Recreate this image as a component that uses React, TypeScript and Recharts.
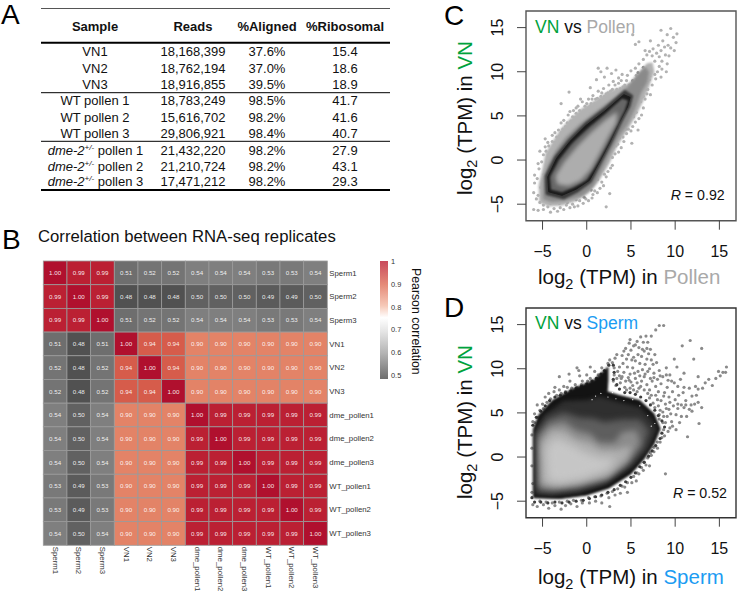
import React from "react"
import { ScatterChart, Scatter, XAxis, YAxis, ReferenceArea } from "recharts"

type Pt = [number, number]

// ---- panel A table
const tableHead = ["Sample", "Reads", "%Aligned", "%Ribosomal"]
const sampleNames = ["VN1", "VN2", "VN3", "WT pollen 1", "WT pollen 2", "WT pollen 3", "pollen 1", "pollen 2", "pollen 3"]
const readCounts = ["18,168,399", "18,762,194", "18,916,855", "18,783,249", "15,616,702", "29,806,921", "21,432,220", "21,210,724", "17,471,212"]
const alignedPct = ["37.6%", "37.0%", "39.5%", "98.5%", "98.2%", "98.4%", "98.2%", "98.2%", "98.2%"]
const ribosomalPct = ["15.4", "18.6", "18.9", "41.7", "41.6", "40.7", "27.9", "43.1", "29.3"]

// ---- panel B heatmap
const heatLabels = ["Sperm1", "Sperm2", "Sperm3", "VN1", "VN2", "VN3", "dme_pollen1", "dme_pollen2", "dme_pollen3", "WT_pollen1", "WT_pollen2", "WT_pollen3"]
const correlations = [
  [1.0, 0.99, 0.99, 0.51, 0.52, 0.52, 0.54, 0.54, 0.54, 0.53, 0.53, 0.54],
  [0.99, 1.0, 0.99, 0.48, 0.48, 0.48, 0.5, 0.5, 0.5, 0.49, 0.49, 0.5],
  [0.99, 0.99, 1.0, 0.51, 0.52, 0.52, 0.54, 0.54, 0.54, 0.53, 0.53, 0.54],
  [0.51, 0.48, 0.51, 1.0, 0.94, 0.94, 0.9, 0.9, 0.9, 0.9, 0.9, 0.9],
  [0.52, 0.48, 0.52, 0.94, 1.0, 0.94, 0.9, 0.9, 0.9, 0.9, 0.9, 0.9],
  [0.52, 0.48, 0.52, 0.94, 0.94, 1.0, 0.9, 0.9, 0.9, 0.9, 0.9, 0.9],
  [0.54, 0.5, 0.54, 0.9, 0.9, 0.9, 1.0, 0.99, 0.99, 0.99, 0.99, 0.99],
  [0.54, 0.5, 0.54, 0.9, 0.9, 0.9, 0.99, 1.0, 0.99, 0.99, 0.99, 0.99],
  [0.54, 0.5, 0.54, 0.9, 0.9, 0.9, 0.99, 0.99, 1.0, 0.99, 0.99, 0.99],
  [0.53, 0.49, 0.53, 0.9, 0.9, 0.9, 0.99, 0.99, 0.99, 1.0, 0.99, 0.99],
  [0.53, 0.49, 0.53, 0.9, 0.9, 0.9, 0.99, 0.99, 0.99, 0.99, 1.0, 0.99],
  [0.54, 0.5, 0.54, 0.9, 0.9, 0.9, 0.99, 0.99, 0.99, 0.99, 0.99, 1.0],
]
const legendTicks = ["1", "0.9", "0.8", "0.7", "0.6", "0.5"]

// ---- panel C density outlines, outermost first
const cOutlines: Pt[][] = [
  [[-5.3, -4.8], [-5.4, -2.9], [-5, -1.2], [-4.6, 0.8], [-3.8, 2.1], [-2.9, 3.5], [-2, 4.5], [-0.7, 5.7], [0.6, 6.5], [2.4, 7.7], [3.8, 8.2], [5.1, 8.8], [6, 9.9], [6.8, 10.9], [7.4, 11], [7.6, 10], [7.1, 8.6], [6.5, 7], [5.5, 5], [4.5, 3.3], [3.4, 1.6], [2.5, -0.4], [1.3, -2.4], [0.2, -3.7], [-1.2, -4.6], [-2.8, -5.1], [-4.3, -5.2]],
  [[-4.9, -4.4], [-4.9, -2.4], [-4.4, -0.7], [-3.5, 1], [-2.3, 2.6], [-0.8, 4], [1, 5.4], [3, 6.9], [4.6, 8.2], [5.7, 9.6], [6.6, 10.5], [7, 10], [6.8, 8.8], [6.1, 7.6], [5.5, 6], [4.6, 4.1], [3.5, 2.5], [2.4, 0.4], [1.5, -1.5], [0.7, -3], [-0.5, -4], [-2.6, -4.6], [-4, -4.7]],
  [[-4.6, -3.9], [-4.7, -1.8], [-3.6, 0.4], [-2, 2.4], [-0.2, 4.2], [2, 5.9], [4.3, 7.9], [5.2, 7.3], [4.9, 6.1], [3.9, 4.2], [2.9, 2.1], [1.8, 0], [0.5, -2.5], [-1, -3.6], [-2.6, -4.4]],
  [[-4.3, -3.6], [-4.4, -1.9], [-3.4, 0.2], [-1.9, 2.1], [-0.1, 3.9], [2, 5.5], [4.2, 7.4], [4.9, 7.1], [4.6, 6], [3.6, 4.1], [2.6, 2], [1.5, -0.1], [0.3, -2.3], [-1.2, -3.3], [-2.8, -4]],
  [[-4, -3.3], [-4.1, -1.9], [-3.1, 0], [-1.6, 1.9], [0.2, 3.6], [2, 5.1], [4, 6.9], [4.6, 6.7], [4.2, 5.5], [3.3, 3.8], [2.3, 1.8], [1.2, -0.2], [0, -2.2], [-1.4, -3], [-2.8, -3.6]],
  [[-3.3, -2.7], [-3.5, -1.8], [-2.5, -0.2], [-1, 1.6], [0.5, 3.1], [2.2, 4.6], [3.4, 5.4], [3.3, 4.2], [2.4, 2.6], [1.4, 0.7], [0.4, -1.1], [-0.7, -2.3], [-2.1, -2.9]],
]

// stray and edge genes of panel C
const cFringe: Pt[] = [
  [-2, 7.7], [-2.9, 6.4], [-4.7, 2.4], [-5.3, 1], [-5.5, -0.4], [-5.9, -1.7], [-5.9, -2.6], [-6, -3.7], [-5.7, -4.4], [-6, -5.6], [-5.5, -5.7], [-4.9, -5.6], [-4.1, -5.9], [-3.3, -5.8], [-2.6, -5.6], [-1.9, -5.4], [-1, -5.2],
  [-4.4, 2], [-3.9, 2.8], [-3.4, 2.6], [-3.2, 3.4], [-2.7, 3.5], [-2.6, 4.5], [-2.2, 4.2], [-2.1, 5.1], [-1.6, 4.9], [-1.5, 5.6], [-1.2, 5.3], [-1, 6.1], [-0.8, 5.6], [-0.5, 6.6], [-0.2, 6.1], [0.2, 6.9], [0.5, 6.4], [0.7, 7.3], [1, 6.9], [1.3, 7.8], [1.6, 7.2], [1.9, 8.1], [2.2, 7.5], [2.5, 8.5], [2.9, 8], [3.2, 8.5], [3.6, 8.7], [4.1, 8.3], [4.5, 9],
  [1.3, 10.4], [1.6, 10], [2.3, 10.4], [2.8, 9.8], [2, 9.4], [1.1, 9.1], [0.4, 8.2], [3.3, 10.2], [3.6, 9.3], [4, 9.7], [4.6, 9.6], [5, 10.1], [5.5, 13.1], [5.2, 14.2], [5.9, 13.4], [6.6, 12.4], [7.2, 13.5], [7.5, 12.6], [8.1, 13], [8.4, 14.7], [8.6, 13.5], [9.1, 14.2], [9.5, 14.9], [9.8, 13.9], [10.2, 14.3], [10.1, 13.3], [9.5, 12.7], [9.9, 12.4], [9.3, 11.8], [9.1, 10.9], [9, 10], [8.4, 9.4], [8.2, 10.6], [7.8, 9.2],
  [7.2, 7.4], [6.9, 8], [6.6, 6.9], [6.2, 5.1], [6.1, 6.6], [5.8, 3.4], [5.6, 5.4], [5.1, 1.9], [5, 3.3], [4.5, 3], [4.1, 2.6], [3.5, 1.8], [3.2, 0.7], [2.9, -0.6], [2.2, -1.9], [1.7, -2.5], [1.2, -3.7], [0.7, -3.9], [0.2, -4.6], [-0.4, -4.9], [2.6, -3.8], [2.2, -5.3],
  [-5.4, -1], [-5.1, -0.2], [-5.6, -2.1], [-5.2, -3.1], [-5.5, -4], [-5.3, -4.8], [-4.9, -5.1], [-4.4, -5.3], [-3.7, -5.5], [-3, -5.4], [-2.3, -5.1], [-1.6, -5], [-4.9, 0.6], [-4.6, 1], [-4.3, 1.6], [-4.7, 1.5], [-3.9, 2.1], [-3.6, 2], [-3.6, 3.1], [-3.1, 2.7], [-2.9, 3.1], [-2.4, 3.8], [-2.9, 4.2], [-2, 3.9], [-1.8, 4.4], [-1.9, 5.5], [-1.3, 4.8], [-0.9, 5], [-1.2, 5.9], [-0.6, 5.3], [-0.3, 5.6], [-0.7, 6.9], [0, 6.4], [0.2, 5.9], [0.4, 6.1], [0.6, 6.9], [0.9, 6.4], [1.2, 7], [1.5, 6.8], [1.7, 7.6], [2, 7.2], [2.4, 7.6], [2.7, 7.8], [3, 8.9], [3.4, 8], [3.8, 8.1], [3.9, 9], [4.3, 8.5], [4.8, 8.5], [5.2, 8.9], [5.6, 9.6], [5.5, 10.4], [5.9, 10.9], [6.3, 9.8], [6.4, 11.4], [6.8, 11.9], [7.1, 12.3], [7.4, 11.8], [7.7, 11.2], [7.9, 12.1], [8.2, 11.7], [8.4, 12.4], [8.5, 11.2], [8.8, 12.8], [8.9, 11.9], [9.2, 13], [8, 10], [8.5, 10.3], [7.7, 9.7], [7.4, 8.5], [7.1, 9.1], [6.8, 7.5], [6.4, 7.2], [6.4, 5.9], [5.9, 4.7], [5.5, 4.3], [5.2, 3.8], [5.3, 4.9], [4.7, 3.5], [4.2, 2.1], [3.9, 1.4], [3.6, 0.9], [3.3, 1.6], [2.9, 0.3], [2.7, -0.9], [2.4, -1.3], [2, -1.6], [1.9, -2.9], [1.5, -3.2], [0.9, -3.5], [0.6, -4.3], [-0.1, -4.4], [-0.8, -4.6], [-1.4, -5.3],
]
const cEdge: Pt[] = [
  [-5, -3.5], [-4.8, -1.6], [-4.3, -0.2], [-3.8, 0.7], [-3, 1.9], [-2.4, 2.5], [-1.6, 3.4], [-1.1, 3.9], [-0.3, 4.7], [0.6, 5.2], [1.4, 5.9], [2.1, 6.4], [2.8, 7], [3.6, 7.5], [4.4, 8.2], [5.2, 9], [5.8, 9.9], [6.4, 10.5],
  [7.1, 9.5], [6.6, 8], [6, 6.9], [5.3, 5.2], [4.4, 3.5], [3.7, 2.5], [3, 1.4], [2.3, 0], [1.8, -1], [1.2, -2.2], [0.5, -3.4], [-0.3, -4.2], [-1.2, -4.5], [-2.2, -4.8], [-3.1, -4.9], [-4.1, -4.9],
]

// ---- panel D density outlines, outermost first
const dOutlines: Pt[][] = [
  [[-6, -4.6], [-6, 3.2], [-5.4, 4.8], [-3.9, 6.4], [-1.6, 7.7], [0.8, 8.7], [2.4, 10.2], [2.4, 8.6], [2.3, 7.4], [3.6, 7], [6, 6.4], [7.6, 4.9], [8.3, 3.2], [7.6, 1.5], [6.4, -0.3], [5, -1.9], [2.5, -3.5], [0, -4.3], [-3, -4.7]],
  [[-5.8, -4.2], [-5.8, 3], [-4.7, 4.8], [-2.6, 6.3], [0, 6.4], [1.4, 6.8], [3.5, 6.2], [6, 5.6], [7.4, 4.2], [7.9, 3.2], [7, 1], [5.1, -1.1], [2.2, -3], [-1, -4], [-4, -4.3]],
  [[-5.5, -3.8], [-5.6, 2.6], [-4.4, 4.3], [-2.6, 5], [-0.8, 4.4], [0.8, 4.3], [2, 3.9], [4, 4.2], [6, 4.2], [7, 3], [6.3, 1], [4.6, -0.9], [2, -2.7], [-1, -3.6], [-4, -3.9]],
  [[-5.3, -3.4], [-5.4, 2.2], [-4.2, 3.6], [-2.6, 4], [-1.2, 3], [0.4, 2.6], [1.4, 1.6], [3.2, 1.6], [4, 2.8], [5.6, 3], [6, 1.6], [4.6, -0.6], [2.3, -2.4], [-1, -3.2], [-3.8, -3.6]],
  [[-5, -3], [-5.1, 1.6], [-4, 3], [-2.6, 3], [-1.2, 2], [0.4, 1.6], [1.6, 0.8], [3.4, 0.8], [5, 1.2], [4.4, -0.3], [2.4, -2], [-1, -2.9], [-3.6, -3.2]],
  [[-4.4, -2.6], [-4.6, 1], [-3.6, 2.2], [-2.2, 1.6], [-0.4, 0.6], [1.4, -0.1], [3.2, -0.1], [2.4, -1.4], [-0.4, -2.4], [-3, -2.9]],
]

// stray and edge genes of panel D
const dFringe: Pt[] = [
  [-6.1, -5.4], [-5.6, -5.6], [-4.9, -5.4], [-4.3, -5.8], [-3.6, -5.5], [-2.9, -5.9], [-2.4, -5.5], [-1.8, -5.3], [-1.1, -5.6], [-0.5, -5.2], [0.3, -5.2], [1, -5], [1.7, -5.2], [2.5, -4.6], [2.6, -5.6], [3.2, -4.3], [3.8, -4.1], [4.3, -3.4], [4.6, -4], [5.1, -2.9], [5.6, -2.7], [5.9, -1.9], [6.4, -1.5], [6.7, -0.9], [7.1, -1], [7.3, 0.2], [7.6, 0.6], [8, 1], [8.3, 1.7], [8.9, -1.9], [8.8, 2.4],
  [-6.1, 4], [-5.9, 4.9], [-5.6, 5.9], [-5, 6], [-4.7, 6.8], [-4.3, 7.2], [-3.7, 7.4], [-3.6, 7.9], [-3.1, 7.6], [-2.6, 8], [-2.2, 7.9], [-1.9, 8.6], [-1.3, 8.2], [-0.8, 9.2], [-0.5, 8.6], [0, 9.3], [0.4, 8.9], [0.9, 9.7], [1.3, 9.3], [1.7, 10.1], [2.4, 10.6],
  [-2, 9.4], [-3.1, 9.1], [-1.1, 10.1], [-0.9, 9.8], [0.4, 10.2], [2.6, 11], [2.9, 10.7], [3.2, 11.2], [3.7, 10.2], [4, 11.5], [4.1, 10.6], [4.4, 12.3], [4.7, 11.6], [4.8, 12.9], [5, 12.1], [5.3, 11.3], [5.5, 12.7], [5.7, 13.1], [5.9, 12.4], [6.1, 13.6], [6.4, 13], [6.7, 13.7], [6.9, 13], [6.5, 12], [7.3, 13.7], [7.8, 14.4], [8.2, 14.9], [8.7, 14.9], [7.2, 12.2],
  [3.1, 9.3], [3.5, 9.7], [3.9, 8.9], [4.2, 9.6], [4.6, 10.2], [4.9, 9.4], [5.2, 10.1], [5.5, 10.9], [5.8, 9.7], [6, 10.6], [6.2, 11.4], [6.6, 10.5], [6.8, 11.1], [7.1, 10], [7.3, 11], [7.6, 9.5], [7.9, 10.7], [8.2, 9.8], [8.6, 9.1], [9, 10.1], [9.4, 9.3], [9.6, 8.6], [9.9, 11.1], [10.2, 10.2], [10.6, 8.8], [11, 9.5], [10.8, 12.6], [11.7, 13.2], [12.1, 11.1], [13, 12.3], [12.6, 9.1],
  [3.3, 8.1], [3.8, 8.4], [4.3, 7.9], [4.8, 8.7], [5.2, 8.1], [5.5, 8.9], [5.9, 7.8], [6.2, 8.6], [6.5, 9.1], [6.8, 8.2], [7.1, 7.6], [7.4, 8.6], [7.8, 8], [8.1, 7.4], [8.4, 8.3], [8.8, 7.3], [9.1, 7.9], [9.3, 6.8], [9.7, 7.4], [10, 6.5], [10.4, 7], [10.9, 7.3], [11.2, 6.4], [11.6, 7.8], [11.9, 6.9], [12.3, 8], [12.6, 7.7], [13.1, 7.8], [13.4, 8.4], [13.8, 8.8], [14.2, 8.1], [14.6, 8.9], [15.1, 9.2], [15.4, 9.6], [15.8, 10.2], [15.7, 9.6], [14.9, 9.7],
  [7.1, 6.7], [7.5, 6.1], [7.8, 7], [8.1, 5.8], [8.4, 6.4], [8.6, 5.1], [8.9, 6], [9.1, 4.6], [9.3, 5.4], [9.6, 4], [9.8, 5.8], [10.1, 4.8], [10.3, 5.5], [10.5, 3.9], [10.7, 4.6], [11, 5.6], [11.3, 4.6], [11.6, 5.4], [11.9, 5.2], [12.2, 6], [12.6, 6.2], [13, 5.6], [10.1, 3.1], [9.4, 3.3], [9.2, 2.9], [8.9, 3.9], [11.4, 2.3], [12.7, 3.8],
  [3, 8.6], [3.4, 8.9], [3.7, 9.2], [4, 9.1], [4.4, 8.6], [4.7, 9], [5, 8.5], [5.4, 9.5], [5.7, 8.4], [6, 9.2], [6.3, 9.9], [6.6, 9.4], [6.9, 9.7], [7.2, 8.9], [7.6, 9], [8, 8.8], [8.3, 9.2], [5.1, 11], [4.5, 11.1], [5.8, 11.6], [6.3, 12.2], [6.8, 12.3], [7, 11.7], [7.5, 10.5], [7.7, 11.6], [4.2, 12], [4.9, 13.3], [5.3, 12.6], [3.4, 11.6], [3.1, 10.1], [6.1, 8], [6.5, 7.6], [6.9, 7.2], [7.3, 7], [5.7, 7.4], [5.3, 7.6], [4.9, 7.8], [4.5, 7.6], [8.3, 5.3], [8.7, 4.6], [9, 5.5], [9.5, 4.9], [9.7, 3.5], [10.3, 6], [9.4, 6.2], [8.7, 6.9], [8, 6.5], [7.7, 5.6], [8.2, 4.8], [10.7, 5.9], [11.2, 5.9], [11, 7.9], [11.8, 5.9], [12.4, 7], [9.9, 8.4], [10.3, 8], [9.2, 8.7], [9, 9.3],
  [-6.2, -4], [-6.1, -3], [-6.2, -1], [-6.2, 1], [-6.2, 2.5], [-5.9, 3.9], [-5.5, 4.5], [-5.3, 5.3], [-4.9, 5.5], [-4.5, 6.2], [-4.1, 6.6], [-3.4, 7], [-2.9, 7.2], [-2.4, 7.4], [-1.7, 7.8], [-1.1, 7.9], [-0.6, 8.2], [0.1, 8.6], [0.6, 8.6], [1.1, 8.9], [-5.3, -5], [-4.6, -5.1], [-3.9, -5.2], [-3.1, -5.1], [-2.2, -5], [-1.5, -4.9], [-0.6, -4.9], [0.2, -4.6], [0.9, -4.5], [1.6, -4.4], [2.3, -4.1], [2.9, -3.9], [3.5, -3.6], [4, -3.3], [4.6, -2.9], [5.3, -2.2], [5.7, -1.8], [6.2, -1.2], [6.5, -0.6], [6.9, -0.1], [7.2, 0.5], [7.6, 1.1], [8, 1.7], [8.5, 2.2], [8.7, 3.1], [8.6, 3.9], [8.2, 4.3],
]
const dEdge: Pt[] = [
  [-6.1, 3.6], [-5.7, 4.5], [-5.2, 5.2], [-4.7, 5.8], [-4.2, 6.4], [-3.6, 6.8], [-3, 7], [-2.4, 7.3], [-1.8, 7.5], [-1.2, 7.8], [-0.6, 8], [0, 8.3], [0.6, 8.6], [1.1, 8.9], [1.6, 9.4], [2, 9.8], [2.5, 10.4], [3, 10.4], [3.1, 9.6], [3, 8.8], [3.4, 8.2], [3.7, 7.7], [4.3, 7.3], [4.9, 7.3], [5.5, 7.1], [6.1, 6.8], [6.7, 6.4], [7.2, 5.9], [7.7, 5.3], [8.1, 4.7], [8.5, 4.1], [8.8, 3.4],
  [8.5, 2.7], [8.3, 2.1], [7.8, 1.3], [7.4, 0.7], [7, 0.1], [6.5, -0.6], [6, -1.1], [5.5, -1.8], [5, -2.3], [4.4, -2.8], [3.8, -3.2], [3.1, -3.7], [2.4, -4], [1.7, -4.3], [1, -4.5], [0.3, -4.7], [-0.4, -4.9], [-1.2, -5], [-2, -5.1], [-2.8, -5.2], [-3.6, -5.1], [-4.4, -5.2], [-5.2, -5.1], [-5.9, -5.1], [-6.2, -4.6],
]
const dSpecks: Pt[] = [[1, 6.9], [1.6, 7.2], [2.4, 6.8], [3.3, 6.6], [0.6, 6.5], [4.2, 6.4], [5.2, 6.5], [6, 5.8], [7.3, 3.5], [7.7, 3.8], [6.9, 4.7], [2.9, 7.3], [4, 8.6]]

const axisTicks = [-5, 0, 5, 10, 15]
const axisDomain: [number, number] = [-6.87, 16.88]

const FONT = "'Liberation Sans', Arial, sans-serif"
const CELL = 284 / 12

const heatColor = (value: string): string =>
  ({
    "1.00": "#b0102e", "0.99": "#bb2033", "0.94": "#d65c4b", "0.90": "#e38367",
    "0.54": "#7f7f7f", "0.53": "#797979", "0.52": "#747474", "0.51": "#6e6e6e",
    "0.50": "#616161", "0.49": "#5b5b5b", "0.48": "#515151",
  } as Record<string, string>)[value]

const cBandStyle = [
  { color: "#b2b2b2", blur: 0.9 },
  { color: "#8a8a8a", blur: 1.4 },
  { color: "#3a3a3a", blur: 0.9 },
  { color: "#1c1c1c", blur: 0.7 },
  { color: "#666666", blur: 1.2 },
  { color: "#adadad", blur: 2 },
]
const dBandStyle = [
  { color: "#131313", blur: 0.8 },
  { color: "#2f2f2f", blur: 2 },
  { color: "#5e5e5e", blur: 3 },
  { color: "#8c8c8c", blur: 3 },
  { color: "#adadad", blur: 3 },
  { color: "#c6c6c6", blur: 4 },
]

const toPoints = (list: Pt[]) => list.map(([x, y]) => ({ x, y }))

const noMark = () => <g />

const dotShape = (color: string, r: number) => (props: any) => <circle cx={props.cx} cy={props.cy} r={r} fill={color} />

const BottomTick = (props: any) => (
  <text x={props.x} y={props.y} dy={25} textAnchor="middle" fontSize={16} fontFamily={FONT} fill="#111">
    {String(props.payload.value).replace("-", "\u2212")}
  </text>
)

const LeftTick = (props: any) => {
  const x = props.x - 12
  return (
    <text transform={`rotate(-90 ${x} ${props.y})`} x={x} y={props.y} textAnchor="middle" fontSize={16} fontFamily={FONT} fill="#111">
      {String(props.payload.value).replace("-", "\u2212")}
    </text>
  )
}

type DensityProps = {
  left: number
  top: number
  boxColor: string
  outlines: Pt[][]
  bandStyle: { color: string; blur: number }[]
  fringe: Pt[]
  fringeColor: string
  edge: Pt[]
  edgeColor: string
  specks?: Pt[]
}

const DensityPanel = ({ left, top, boxColor, outlines, bandStyle, fringe, fringeColor, edge, edgeColor, specks }: DensityProps) => (
  <div style={{ position: "absolute", left, top }}>
    <ScatterChart width={318} height={280} margin={{ top: 11, right: 2, bottom: 0, left: 0 }}>
      <XAxis
        type="number"
        dataKey="x"
        domain={axisDomain}
        ticks={axisTicks}
        allowDataOverflow
        height={59.3}
        tickSize={9}
        tick={<BottomTick />}
        axisLine={false}
        tickLine={{ stroke: "#444", strokeWidth: 1 }}
      />
      <YAxis
        type="number"
        dataKey="y"
        domain={axisDomain}
        ticks={axisTicks}
        allowDataOverflow
        width={106}
        tickSize={9}
        tick={<LeftTick />}
        axisLine={false}
        tickLine={{ stroke: "#444", strokeWidth: 1 }}
      />
      <Scatter data={toPoints(fringe)} shape={dotShape(fringeColor, 1.6)} isAnimationActive={false} />
      <Scatter data={toPoints(edge)} shape={dotShape(edgeColor, 1.6)} isAnimationActive={false} />
      {outlines.map((outline, i) => (
        <Scatter
          key={i}
          data={toPoints(outline)}
          line={{ fill: bandStyle[i].color, stroke: bandStyle[i].color, strokeWidth: 1, style: { filter: `blur(${bandStyle[i].blur}px)` } } as any}
          lineJointType="linearClosed"
          shape={noMark}
          isAnimationActive={false}
        />
      ))}
      {specks && <Scatter data={toPoints(specks)} shape={dotShape("#ffffff", 0.6)} isAnimationActive={false} />}
      <ReferenceArea
        x1={axisDomain[0]}
        x2={axisDomain[1]}
        y1={axisDomain[0]}
        y2={axisDomain[1]}
        fill="none"
        stroke={boxColor}
        strokeWidth={1.4}
        ifOverflow="visible"
      />
    </ScatterChart>
  </div>
)

const heatCells = correlations.flatMap((row, r) =>
  row.map((value, c) => ({ x: c + 0.5, y: r + 0.5, value: value.toFixed(2) }))
)
const heatTicks = heatLabels.map((_, i) => i + 0.5)

const HeatCell = (props: any) => (
  <g>
    <rect
      x={props.cx - CELL / 2}
      y={props.cy - CELL / 2}
      width={CELL}
      height={CELL}
      fill={heatColor(props.payload.value)}
      stroke="#9a9a9a"
      strokeWidth={0.8}
    />
    <text x={props.cx} y={props.cy + 2.2} textAnchor="middle" fontSize={6.2} fontFamily={FONT} fill="#ffffff" fillOpacity={0.9}>
      {props.payload.value}
    </text>
  </g>
)

const HeatRowTick = (props: any) => (
  <text x={props.x - 6} y={props.y + 2.7} fontSize={7.8} fontFamily={FONT} fill="#333">
    {heatLabels[Math.floor(props.payload.value)]}
  </text>
)

const HeatColTick = (props: any) => {
  const x = props.x - 2.6
  const y = props.y - 6.5
  return (
    <text transform={`rotate(90 ${x} ${y})`} x={x} y={y} fontSize={7.8} fontFamily={FONT} fill="#333">
      {heatLabels[Math.floor(props.payload.value)]}
    </text>
  )
}

const Heatmap = () => (
  <div style={{ position: "absolute", left: 0, top: 250 }}>
    <ScatterChart width={400} height={344} margin={{ top: 11, right: 0, bottom: 0, left: 43.3 }}>
      <XAxis type="number" dataKey="x" domain={[0, 12]} ticks={heatTicks} interval={0} height={48.7} tick={<HeatColTick />} tickLine={false} axisLine={false} />
      <YAxis type="number" dataKey="y" domain={[0, 12]} reversed orientation="right" ticks={heatTicks} interval={0} width={72.7} tick={<HeatRowTick />} tickLine={false} axisLine={false} />
      <Scatter data={heatCells} shape={HeatCell} isAnimationActive={false} />
    </ScatterChart>
  </div>
)

const columnX = [95, 193, 267, 345]
const rowY = [51.7, 68, 84, 100, 117, 133, 150, 166, 181]

const SampleTable = () => (
  <g fontFamily={FONT} fontSize={13} fill="#111" textAnchor="middle">
    <line x1={41} x2={390} y1={8.5} y2={8.5} stroke="#555" strokeWidth={1} />
    <line x1={41} x2={390} y1={42.7} y2={42.7} stroke="#000" strokeWidth={2} />
    <line x1={41} x2={390} y1={92.7} y2={92.7} stroke="#000" strokeWidth={1} />
    <line x1={41} x2={390} y1={141.3} y2={141.3} stroke="#000" strokeWidth={1} />
    <line x1={41} x2={390} y1={190} y2={190} stroke="#000" strokeWidth={2} />
    {tableHead.map((h, i) => (
      <text key={h} x={columnX[i]} y={31} fontWeight="bold">{h}</text>
    ))}
    {sampleNames.map((name, i) => (
      <React.Fragment key={name}>
        {i < 6 ? (
          <text x={columnX[0]} y={rowY[i] + 4.6}>{name}</text>
        ) : (
          <text x={columnX[0] + 0.5} y={rowY[i] + 4.6}>
            <tspan fontStyle="italic">dme-2</tspan>
            <tspan fontSize={8} dy={-5} fontStyle="italic">+/-</tspan>
            <tspan dy={5}> {name}</tspan>
          </text>
        )}
        <text x={columnX[1]} y={rowY[i] + 4.6}>{readCounts[i]}</text>
        <text x={columnX[2]} y={rowY[i] + 4.6}>{alignedPct[i]}</text>
        <text x={columnX[3]} y={rowY[i] + 4.6}>{ribosomalPct[i]}</text>
      </React.Fragment>
    ))}
  </g>
)

const Log2Label = ({ rest, color }: { rest: string; color: string }) => (
  <>
    <tspan>log</tspan>
    <tspan fontSize={14.5} dy={5}>2</tspan>
    <tspan dy={-5}> (TPM) in </tspan>
    <tspan fill={color}>{rest}</tspan>
  </>
)

const GREEN = "#00a23c"
const GREY = "#a9a9a9"
const BLUE = "#1c9cf2"

const Annotations = () => (
  <svg width={738} height={594} style={{ position: "absolute", left: 0, top: 0, pointerEvents: "none" }} fontFamily={FONT}>
    <SampleTable />
    <g fontSize={28} fill="#000">
      <text x={1} y={24}>A</text>
      <text x={2} y={249}>B</text>
      <text x={444} y={25}>C</text>
      <text x={444} y={317}>D</text>
    </g>
    <text x={38} y={242} fontSize={16.7} fill="#111">Correlation between RNA-seq replicates</text>

    {legendTicks.map((t, i) => (
      <text key={t} x={391} y={[263.5, 286.5, 309.5, 332, 355, 378][i]} fontSize={7.4} fill="#333">{t}</text>
    ))}
    <text transform="rotate(90 412 268)" x={412} y={268} fontSize={12.3} fill="#111">Pearson correlation</text>

    <text x={535} y={33} fontSize={17.5} fill="#111">
      <tspan fill={GREEN}>VN</tspan> vs <tspan fill={GREY}>Pollen</tspan>
    </text>
    <text x={724.7} y={200} fontSize={14.2} textAnchor="end" fill="#111">
      <tspan fontStyle="italic">R</tspan> = 0.92
    </text>
    <text x={538} y={284} fontSize={20.5} fill="#111"><Log2Label rest="Pollen" color={GREY} /></text>
    <text transform="rotate(-90 472 195)" x={472} y={195} fontSize={20.5} fill="#111"><Log2Label rest="VN" color={GREEN} /></text>

    <text x={535} y={328.5} fontSize={17.5} fill="#111">
      <tspan fill={GREEN}>VN</tspan> vs <tspan fill={BLUE}>Sperm</tspan>
    </text>
    <text x={727} y={498} fontSize={14.2} textAnchor="end" fill="#111">
      <tspan fontStyle="italic">R</tspan> = 0.52
    </text>
    <text x={538} y={584} fontSize={20.5} fill="#111"><Log2Label rest="Sperm" color={BLUE} /></text>
    <text transform="rotate(-90 472 499)" x={472} y={499} fontSize={20.5} fill="#111"><Log2Label rest="VN" color={GREEN} /></text>
  </svg>
)

export default function App() {
  return (
    <div style={{ position: "absolute", left: 0, top: 0, width: 738, height: 594, background: "#fff", overflow: "hidden" }}>
      <Heatmap />
      <div
        style={{
          position: "absolute",
          left: 380,
          top: 261,
          width: 8,
          height: 118,
          background: "linear-gradient(to bottom, #c94a5c 0%, #e58a78 20%, #f6c9b8 38%, #ffffff 48%, #e4e4e4 60%, #b4b4b4 78%, #6e6e6e 100%)",
        }}
      />
      <DensityPanel left={419.7} top={0} boxColor="#555" outlines={cOutlines} bandStyle={cBandStyle} fringe={cFringe} fringeColor="#b2b2b2" edge={cEdge} edgeColor="#8a8a8a" />
      <DensityPanel left={420.3} top={297.3} boxColor="#333" outlines={dOutlines} bandStyle={dBandStyle} fringe={dFringe} fringeColor="#8a8a8a" edge={dEdge} edgeColor="#3e3e3e" specks={dSpecks} />
      <Annotations />
    </div>
  )
}
